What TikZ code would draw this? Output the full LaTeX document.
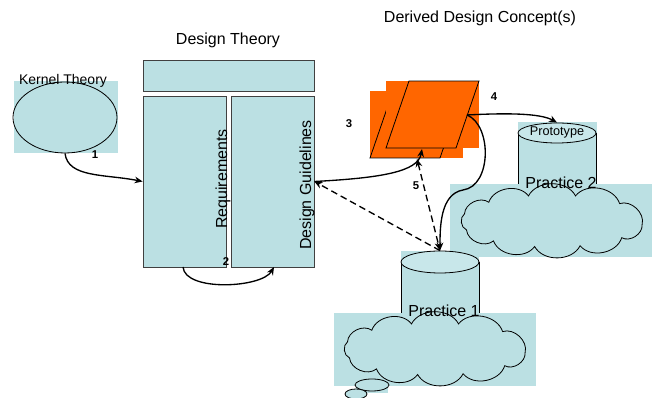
\documentclass[tikz,border=0pt]{standalone}
\usepackage{fontspec}
\setmainfont{Liberation Sans}
\usetikzlibrary{arrows.meta,shapes.geometric}
\definecolor{paleblue}{HTML}{BBE0E3}
\definecolor{palecap}{HTML}{C8E7EA}
\definecolor{conceptorange}{HTML}{FF6600}

% puffy cloud round an ellipse: centre x, centre y, x radius, y radius
\newcommand{\puffcloud}[4]{%
  \draw[fill=paleblue, line width=0.6pt]
    ({#1+#3*cos(8)},{#2+#4*sin(8)})
    \foreach \ang in {40,72,101,130,160,196,226,255,285,318,368} {
      to[bend left=62] ({#1+#3*cos(\ang)},{#2+#4*sin(\ang)})
    } -- cycle;}

\begin{document}
\begin{tikzpicture}[x=0.75pt, y=-0.75pt,
    box/.style={draw=black!75, fill=paleblue, line width=0.6pt, inner sep=0pt},
    flow/.style={line width=1pt, -{Stealth[length=6pt,width=5pt]}},
    link/.style={line width=1pt, dash pattern=on 5pt off 3pt},
    num/.style={font=\fontsize{8.5}{9}\selectfont\bfseries},
  ]
  \useasboundingbox (0,0) rectangle (658,398);

  % headings
  \node[font=\fontsize{12}{14}\selectfont] (dthead) at (228,40) {Design Theory};
  \node[font=\fontsize{12}{14}\selectfont] (dchead) at (480,18) {Derived Design Concept(s)};

  % kernel theory
  \fill[paleblue] (14,81) rectangle (118,153);
  \node[ellipse, draw, line width=0.6pt, inner sep=0pt, minimum width=78pt, minimum height=53.25pt] (kernel) at (65,117.5) {};
  \node[font=\fontsize{10.5}{12}\selectfont] (kerneltxt) at (63,81) {Kernel Theory};

  % design theory columns
  \node[box, minimum width=128.25pt, minimum height=23.25pt] (bar) at (228.5,75.5) {};
  \node[box, minimum width=62.25pt, minimum height=128.25pt] (req) at (184.5,181.5) {};
  \node[box, minimum width=62.25pt, minimum height=128.25pt] (guide) at (272.5,181.5) {};
  \node[rotate=90, font=\fontsize{12}{14}\selectfont] (reqtxt) at (223,179) {Requirements};
  \node[rotate=90, font=\fontsize{12}{14}\selectfont] (guidetxt) at (307,185) {Design Guidelines};

  % derived concept, two stacked sheets
  \fill[conceptorange] (370,91) rectangle (463,158);
  \draw[line width=0.6pt] (393,91) -- (463,91) -- (440,158) -- (370,158) -- cycle;
  \fill[conceptorange] (386,81) rectangle (479,148);
  \draw[line width=0.6pt] (409,81) -- (479,81) -- (456,148) -- (386,148) -- cycle;
  \coordinate (conc-in) at (422,149);
  \coordinate (conc-dash) at (417,159);
  \coordinate (conc-out) at (467,115);

  % practice 2 with prototype
  \fill[paleblue] (518,122) rectangle (597,200);
  \draw[line width=0.6pt] (518,133) -- (518,200) (596,133) -- (596,200);
  \node[ellipse, draw, fill=palecap, line width=0.6pt, inner sep=0pt, minimum width=58.5pt, minimum height=15pt] (proto) at (557,133) {};
  \node[font=\fontsize{9.5}{11}\selectfont] (prototxt) at (557,132) {Prototype};
  \fill[paleblue] (450,184) rectangle (652,257);
  \puffcloud{552}{221}{91}{26}
  \node[font=\fontsize{12}{14}\selectfont] (prac2txt) at (561,183) {Practice 2};

  % practice 1
  \fill[paleblue] (401,251) rectangle (479,320);
  \draw[line width=0.6pt] (401,262) -- (401,320) (479,262) -- (479,320);
  \node[ellipse, draw, fill=palecap, line width=0.6pt, inner sep=0pt, minimum width=58.5pt, minimum height=16.5pt] (prac1) at (440,262) {};
  \fill[paleblue] (334,313) rectangle (536,386);
  \fill[paleblue] (356,385) rectangle (388,393);
  \puffcloud{435}{349}{91}{26}
  \draw[fill=paleblue, line width=0.6pt] (372,385) ellipse [x radius=17, y radius=6];
  \draw[fill=paleblue, line width=0.6pt] (356,394) ellipse [x radius=11, y radius=5];
  \node[font=\fontsize{12}{14}\selectfont] (prac1txt) at (444,311) {Practice 1};

  % connectors
  \draw[flow] (kernel.south) .. controls (68,178) and (105,174) .. (req.west);
  \draw[flow] (183,267) .. controls (185,292) and (262,288) .. (274,267);
  \draw[flow] (guide.east) .. controls (380,178) and (418,172) .. (conc-in);
  \draw[flow] (conc-out) .. controls (505,113) and (540,113) .. (proto.north);
  \draw[flow] (conc-out) .. controls (492,125) and (492,186) .. (463,190)
    .. controls (440,194) and (440,228) .. (prac1.north);
  \draw[link, {Stealth[length=6pt,width=5pt]}-{Stealth[length=6pt,width=5pt]}] (conc-dash) -- (prac1.north);
  \draw[link, -{Stealth[length=6pt,width=5pt]}] (prac1.north) -- (guide.east);

  % step numbers
  \node[num] (n1) at (95,155) {1};
  \node[num] (n2) at (226,262) {2};
  \node[num] (n3) at (349,124) {3};
  \node[num] (n4) at (494,97) {4};
  \node[num] (n5) at (416,186) {5};
\end{tikzpicture}
\end{document}
